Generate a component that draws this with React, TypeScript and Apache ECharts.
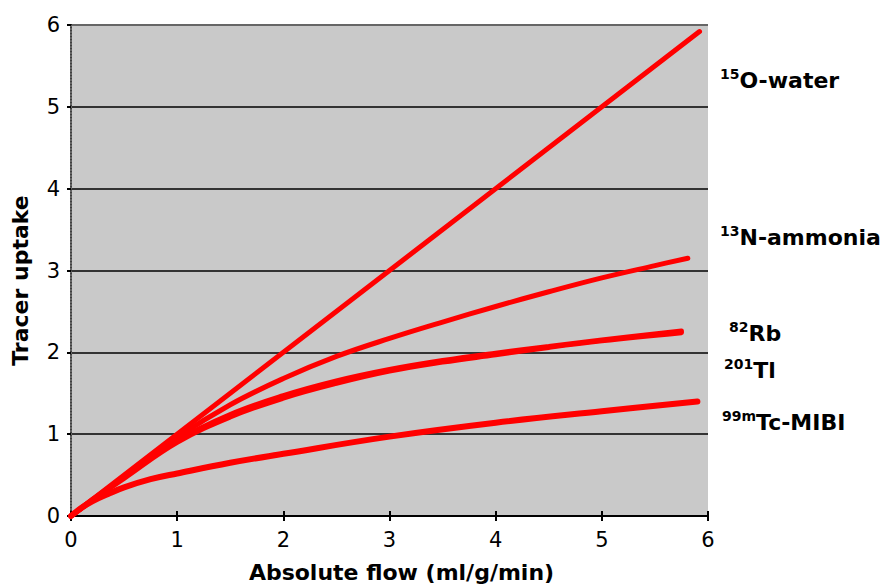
import React, { useEffect, useRef } from "react";
import * as echarts from "echarts";

const xTicks = [0, 1, 2, 3, 4, 5, 6];
const yTicks = [0, 1, 2, 3, 4, 5, 6];

const waterX = [0, 5.92];
const waterY = [0, 5.92];

const ammoniaX = [0, 0.2, 0.5, 1, 1.5, 2, 2.5, 3, 3.5, 4, 4.5, 5, 5.5, 5.81];
const ammoniaY = [0, 0.2, 0.48, 0.96, 1.36, 1.68, 1.95, 2.17, 2.37, 2.56, 2.74, 2.91, 3.06, 3.15];

const rbX = [0, 0.2, 0.5, 1, 1.5, 2, 2.5, 3, 3.5, 4, 4.5, 5, 5.75];
const rbY = [0, 0.19, 0.47, 0.92, 1.24, 1.47, 1.65, 1.79, 1.9, 1.99, 2.07, 2.15, 2.26];

const tlX = [0, 0.2, 0.5, 1, 1.5, 2, 2.5, 3, 3.5, 4, 4.5, 5, 5.75];
const tlY = [0, 0.19, 0.46, 0.9, 1.21, 1.44, 1.62, 1.77, 1.88, 1.97, 2.06, 2.14, 2.24];

const mibiX = [0, 0.1, 0.2, 0.35, 0.5, 0.75, 1, 1.5, 2, 3, 4, 5, 5.9];
const mibiY = [0, 0.1, 0.18, 0.27, 0.35, 0.45, 0.52, 0.65, 0.76, 0.97, 1.14, 1.28, 1.4];

const labels = [
  { sup: "15", main: "O-water", x: 720, y: 80 },
  { sup: "13", main: "N-ammonia", x: 720, y: 237 },
  { sup: "82", main: "Rb", x: 729, y: 333 },
  { sup: "201", main: "Tl", x: 724, y: 370 },
  { sup: "99m", main: "Tc-MIBI", x: 722, y: 422 },
];

const FONT = "'DejaVu Sans', 'Liberation Sans', Arial, sans-serif";

function pairs(xs: number[], ys: number[]) {
  return xs.map((x, i) => [x, ys[i]]);
}

export default function App() {
  const ref = useRef<HTMLDivElement>(null);
  useEffect(() => {
    if (!ref.current) return;
    const chart = echarts.init(ref.current, null, { renderer: "svg" });
    const mk = (name: string, xs: number[], ys: number[], w: number) => ({
      name,
      type: "line",
      data: pairs(xs, ys),
      smooth: 0.4,
      showSymbol: false,
      symbol: "none",
      lineStyle: { color: "#ff0000", width: w, cap: "round" },
      z: 3,
    });
    chart.setOption({
      animation: false,
      backgroundColor: "#ffffff",
      grid: {
        left: 71,
        right: 182,
        top: 25,
        bottom: 70,
        show: true,
        backgroundColor: "#c9c9c9",
        borderWidth: 0,
      },
      xAxis: [
        {
          type: "value",
          min: 0,
          max: 6,
          interval: 1,
          name: "Absolute flow (ml/g/min)",
          nameLocation: "middle",
          nameGap: 45,
          nameTextStyle: { fontFamily: FONT, fontSize: 22, fontWeight: "bold", color: "#000", padding: [0, 0, 0, 24] },
          axisLine: { show: true, lineStyle: { color: "#000", width: 2 } },
          axisTick: { show: true, inside: false, length: 5, lineStyle: { color: "#000", width: 2 } },
          axisLabel: {
            fontFamily: FONT,
            fontSize: 21,
            color: "#000",
            margin: 13,
            formatter: (v: number) => (xTicks.includes(v) ? String(v) : ""),
          },
          splitLine: { show: false },
        },
        {
          type: "value",
          min: 0,
          max: 6,
          interval: 1,
          position: "bottom",
          axisLine: { show: false },
          axisTick: { show: true, inside: true, length: 5, lineStyle: { color: "#000", width: 2 } },
          axisLabel: { show: false },
          splitLine: { show: false },
        },
      ],
      yAxis: [
        {
          type: "value",
          min: 0,
          max: 6,
          interval: 1,
          name: "Tracer uptake",
          nameLocation: "middle",
          nameGap: 40,
          nameTextStyle: { fontFamily: FONT, fontSize: 22, fontWeight: "bold", color: "#000", padding: [0, 20, 0, 0] },
          axisLine: { show: true, lineStyle: { color: "#000", width: 2 } },
          axisTick: { show: true, inside: false, length: 4, lineStyle: { color: "#000", width: 2 } },
          axisLabel: {
            fontFamily: FONT,
            fontSize: 21,
            color: "#000",
            margin: 11,
            formatter: (v: number) => (yTicks.includes(v) ? String(v) : ""),
          },
          splitLine: {
            show: true,
            lineStyle: {
              color: ["#333", "#333", "#333", "#333", "#333", "#333", "#666"],
              width: 2,
            },
          },
        },
        {
          type: "value",
          min: 0,
          max: 6,
          interval: 1,
          position: "right",
          axisLine: { show: true, lineStyle: { color: "#888", width: 1.5, type: "dotted" } },
          axisTick: { show: false },
          axisLabel: { show: false },
          splitLine: { show: false },
        },
      ],
      series: [
        mk("15O-water", waterX, waterY, 5),
        mk("13N-ammonia", ammoniaX, ammoniaY, 5),
        mk("82Rb", rbX, rbY, 5),
        mk("201Tl", tlX, tlY, 5),
        mk("99mTc-MIBI", mibiX, mibiY, 6),
      ],
      graphic: labels.map((l) => ({
        type: "text",
        left: l.x,
        top: l.y - 13,
        style: {
          text: `{s|${l.sup}}{m|${l.main}}`,
          rich: {
            s: { fontFamily: FONT, fontSize: 14, fontWeight: "bold", color: "#000", verticalAlign: "top", lineHeight: 26, padding: [0, 0, 10, 0] },
            m: { fontFamily: FONT, fontSize: 22, fontWeight: "bold", color: "#000", lineHeight: 26 },
          },
        },
      })),
    });
    return () => chart.dispose();
  }, []);
  return (
    <div
      ref={ref}
      style={{ position: "absolute", left: 0, top: 0, width: 890, height: 588 }}
    />
  );
}
